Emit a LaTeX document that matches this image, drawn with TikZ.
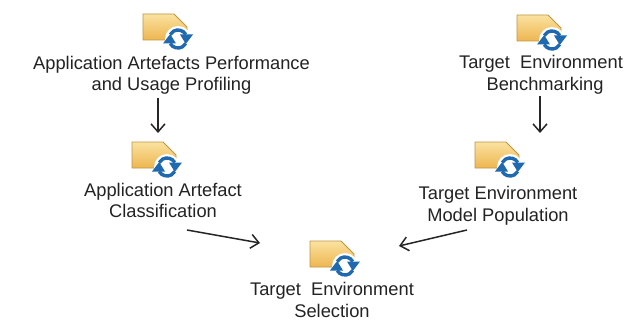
\documentclass[tikz,border=0pt]{standalone}
\usepackage{fontspec}
\setmainfont{Liberation Sans}
\usetikzlibrary{arrows.meta}
\definecolor{folderedge}{RGB}{190,150,70}
\definecolor{foldertop}{RGB}{250,226,160}
\definecolor{folderbot}{RGB}{238,182,80}
\definecolor{cycleblue}{RGB}{30,105,175}
\definecolor{inktext}{RGB}{35,35,35}
\tikzset{
  x=1pt,y=-1pt,
  label text/.style={font=\fontsize{18.3}{21.5}\selectfont,text=inktext,align=center,inner sep=0pt},
  flow/.style={draw=black!85,line width=1.5pt,-{Straight Barb[length=8pt,width=14pt,line width=1.5pt]}},
  pics/taskicon/.style={code={
    \draw[folderedge,line width=0.9pt,bottom color=folderbot,top color=foldertop]
      (0,0) -- (31,0) -- (44,13) -- (44,26) -- (0,26) -- cycle;
    \fill[white] (35,25) circle (13);
    \draw[cycleblue,line width=3.4pt] (35,25) ++(150:9) arc (150:30:9);
    \draw[cycleblue,line width=3.4pt] (35,25) ++(330:9) arc (330:210:9);
    \fill[cycleblue] (42.8,30) -- (50,20.5) -- (37,20.5) -- cycle;
    \fill[cycleblue] (27.2,20) -- (20,29.5) -- (33,29.5) -- cycle;
  }}
}
\begin{document}
\begin{tikzpicture}
\useasboundingbox (0,0) rectangle (638,321);
\fill[white] (0,0) rectangle (638,321);
\pic at (143,14) {taskicon};
\pic at (132,142) {taskicon};
\pic at (517,15) {taskicon};
\pic at (475,142) {taskicon};
\pic at (310,241) {taskicon};
\node[label text] (profiling) at (171.5,75.5) {Application Artefacts Performance\\and Usage Profiling};
\node[label text] (classification) at (163,200.5) {Application Artefact\\Classification};
\node[label text,align=left] (benchmarking) at (541,75) {Target\ \ Environment\\\hspace*{1.5em}Benchmarking};
\node[label text] (population) at (498,206) {Target Environment\\Model Population};
\node[label text] (selection) at (332,300) {Target\ \ Environment\\Selection};
\coordinate (a1) at (158,98);
\coordinate (a2) at (158,133);
\coordinate (b1) at (540,96);
\coordinate (b2) at (540,133);
\coordinate (c1) at (187,230);
\coordinate (c2) at (260,243);
\coordinate (d1) at (467,230);
\coordinate (d2) at (399,246);
\draw[flow] (a1) -- (a2);
\draw[flow] (b1) -- (b2);
\draw[flow] (c1) -- (c2);
\draw[flow] (d1) -- (d2);
\end{tikzpicture}
\end{document}
